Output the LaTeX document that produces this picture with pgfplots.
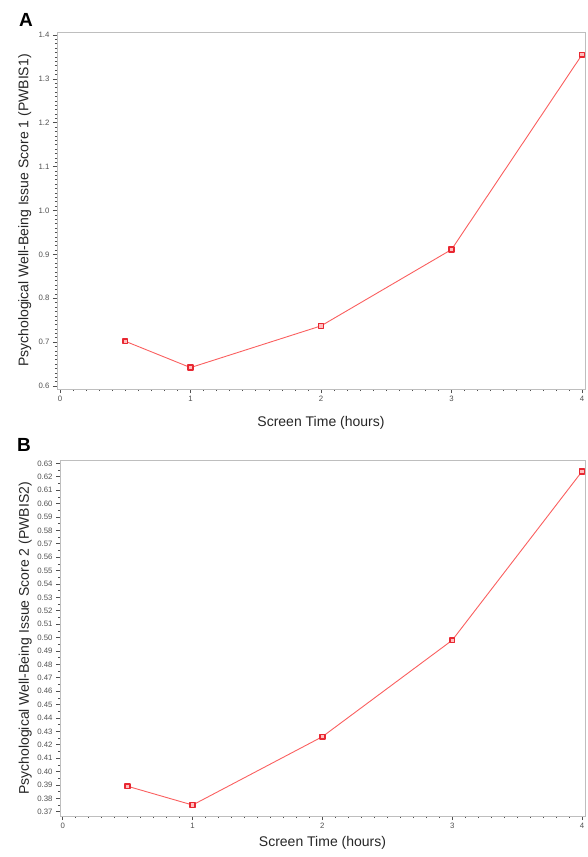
\documentclass[border=0pt]{standalone}
\usepackage{pgfplots}
\pgfplotsset{compat=1.18}
\usepackage{fontspec}
\setmainfont{Liberation Sans}
\definecolor{axgray}{RGB}{190,190,190}
\definecolor{tickgray}{RGB}{80,80,80}
\definecolor{lred}{RGB}{250,95,95}
\definecolor{mred}{RGB}{232,40,50}
\definecolor{pinkfill}{RGB}{255,190,190}
\pgfplotsset{
  common/.style={
    scale only axis,
    axis line style={axgray, line width=0.9pt},
    tick style={tickgray, line width=0.6pt},
    tick align=outside,
    major tick length=4pt,
    minor tick length=2.2pt,
    xtick pos=bottom, ytick pos=left,
    xtick={0,1,2,3,4},
    minor x tick num=9,
    ticklabel style={font=\fontsize{7.8}{8}\selectfont, text=tickgray},
    /pgf/number format/assume math mode=true,
    label style={font=\fontsize{14}{16}\selectfont, text=black!85},
  },
  redline/.style={line width=0.9pt, color=lred, mark=square*, mark size=2.4pt, mark options={draw=mred, fill=pinkfill, solid, line width=1.5pt, line join=round}}
}
\begin{document}
\begin{tikzpicture}
\path[use as bounding box] (0pt,0pt) rectangle (587pt,-857pt);
\node[font=\fontsize{19}{20}\selectfont\bfseries] at (26pt,-20pt) {A};
\node[font=\fontsize{19}{20}\selectfont\bfseries] at (24pt,-445pt) {B};
\begin{axis}[common,
  anchor=south west, at={(57pt,-389pt)},
  width=528pt, height=357pt,
  xmin=-0.023, xmax=4.023,
  ymin=0.5932, ymax=1.4068,
  ytick={0.6,0.7,0.8,0.9,1.0,1.1,1.2,1.3,1.4},
  yticklabels={0.6,0.7,0.8,0.9,1.0,1.1,1.2,1.3,1.4},
  minor y tick num=9,
  xlabel={Screen Time (hours)},
  ylabel={Psychological Well-Being Issue Score 1 (PWBIS1)},
  xlabel style={at={(axis description cs:0.5,-0.095)}, anchor=center},
  ylabel style={at={(axis description cs:-0.061,0.5)}, anchor=center},
]
\addplot[redline] coordinates {(0.5,0.702) (1,0.642) (2,0.737) (3,0.911) (4,1.355)};
\end{axis}
\begin{axis}[common,
  anchor=south west, at={(60pt,-816pt)},
  width=525pt, height=355.3pt,
  xmin=-0.021, xmax=4.023,
  ymin=0.3668, ymax=0.632,
  ytick={0.37,0.38,...,0.635},
  yticklabel style={/pgf/number format/.cd, fixed, fixed zerofill, precision=2},
  minor y tick num=1,
  xlabel={Screen Time (hours)},
  ylabel={Psychological Well-Being Issue Score 2 (PWBIS2)},
  xlabel style={at={(axis description cs:0.5,-0.075)}, anchor=center},
  ylabel style={at={(axis description cs:-0.066,0.5)}, anchor=center},
]
\addplot[redline] coordinates {(0.5,0.389) (1,0.375) (2,0.426) (3,0.498) (4,0.624)};
\end{axis}
\end{tikzpicture}
\end{document}
